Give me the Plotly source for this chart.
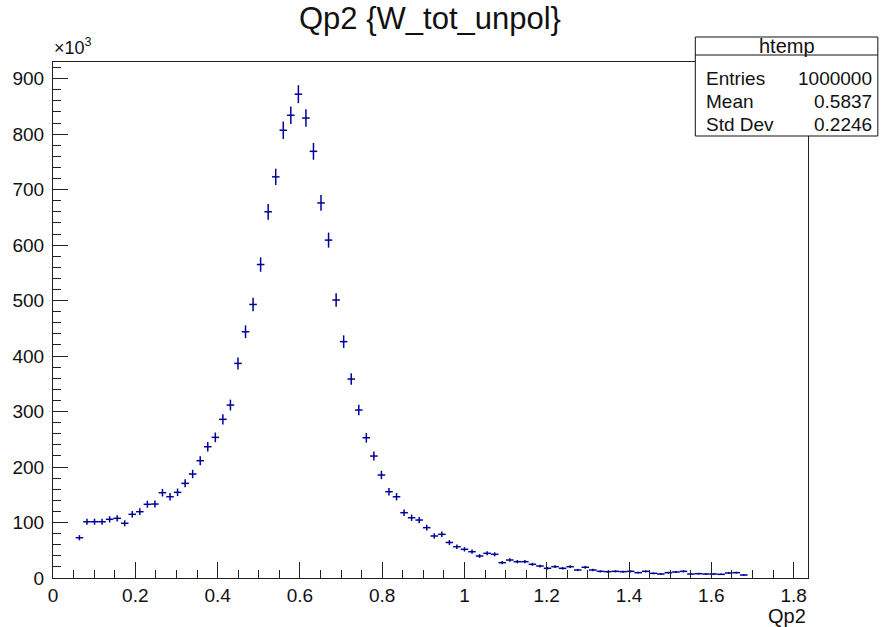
import numpy as np
import plotly.graph_objects as go

# ---------------- data (histogram "htemp", Qp2 weighted by W_tot_unpol) ----------------
x_min, x_max, n_bins = 0.0, 1.835, 100
first_filled_bin = 3

counts_k = [
    72.6, 101.4, 101.4, 101.4, 105.8, 107.6, 98.6, 114.8, 119.5, 132.8,
    133.3, 153.7, 146.5, 154.4, 170.6, 187.4, 211.4, 236.6, 253.5, 286.0,
    311.7, 386.8, 443.8, 493.0, 565.0, 660.0, 723.0, 807.0, 834.0, 872.0,
    829.0, 769.0, 676.0, 609.0, 501.0, 426.0, 358.6, 302.7, 252.8, 219.8,
    185.6, 155.5, 146.5, 117.7, 108.6, 104.5, 90.7, 75.7, 78.7, 64.0,
    56.4, 51.7, 47.4, 39.6, 44.5, 42.7, 27.6, 32.4, 29.4, 29.4,
    24.7, 21.6, 17.5, 20.4, 17.5, 20.4, 14.4, 19.3, 14.4, 12.0,
    11.4, 12.0, 11.4, 12.0, 9.6, 12.0, 8.4, 7.2, 9.6, 10.8,
    12.0, 7.2, 7.8, 7.2, 7.2, 6.6, 9.0, 9.6, 5.4,
]

errors_k = [
    4.7, 5.5, 5.5, 5.5, 5.6, 5.7, 5.4, 5.9, 6.0, 6.3,
    6.3, 6.8, 6.6, 6.8, 7.2, 7.5, 8.0, 8.4, 8.7, 9.3,
    9.7, 10.8, 11.5, 12.2, 13.0, 14.1, 14.7, 15.6, 15.8, 16.2,
    15.8, 15.2, 14.2, 13.5, 12.3, 11.3, 10.4, 9.5, 8.7, 8.1,
    7.5, 6.8, 6.6, 5.9, 5.7, 5.6, 5.2, 4.8, 4.9, 4.4,
    4.1, 3.9, 3.8, 3.4, 3.7, 3.6, 2.9, 3.1, 3.0, 3.0,
    2.7, 2.5, 2.3, 2.5, 2.3, 2.5, 2.1, 2.4, 2.1, 1.9,
    1.8, 1.9, 1.8, 1.9, 1.7, 1.9, 1.6, 1.5, 1.7, 1.8,
    1.9, 1.5, 1.5, 1.5, 1.5, 1.4, 1.6, 1.7, 1.3,
]

x_ticks = [0, 0.2, 0.4, 0.6, 0.8, 1.0, 1.2, 1.4, 1.6, 1.8]
x_tick_text = ["0", "0.2", "0.4", "0.6", "0.8", "1", "1.2", "1.4", "1.6", "1.8"]
y_ticks = [0, 100, 200, 300, 400, 500, 600, 700, 800, 900]
y_tick_text = ["0", "100", "200", "300", "400", "500", "600", "700", "800", "900"]

stats_title = "htemp"
stats_names = ["Entries", "Mean", "Std Dev"]
stats_values = ["1000000", "0.5837", "0.2246"]

chart_title = "Qp2 {W_tot_unpol}"
x_title = "Qp2"

# ---------------- geometry ----------------
bin_width = (x_max - x_min) / n_bins
idx = np.arange(len(counts_k)) + first_filled_bin
centers = x_min + (idx + 0.5) * bin_width

W, H = 881, 627
L, R, T, B = 51, 808, 62, 578  # plot frame in pixels
pw, ph = R - L, B - T


def px(xp):
    return (xp - L) / pw


def py(yp):
    return (B - yp) / ph


LINE = "#000099"
FONT = "Liberation Sans, Arial, Helvetica, sans-serif"
TXT = "#111111"

fig = go.Figure()
fig.add_trace(go.Scatter(
    x=centers, y=counts_k, mode="markers",
    marker=dict(size=1, color=LINE, opacity=0),
    error_y=dict(type="data", array=errors_k, color=LINE, thickness=1.5, width=0),
    error_x=dict(type="constant", value=bin_width / 2, color=LINE, thickness=1.5, width=0),
    showlegend=False, hoverinfo="x+y",
))

fig.update_layout(
    width=W, height=H,
    margin=dict(l=L, r=W - R, t=T, b=H - B),
    paper_bgcolor="white", plot_bgcolor="white",
    font=dict(family=FONT, size=19, color=TXT),
    showlegend=False,
)

fig.update_xaxes(
    range=[x_min, x_max], tickvals=x_ticks, ticktext=x_tick_text,
    ticks="inside", ticklen=16, tickwidth=1, tickcolor="#222",
    minor=dict(ticks="inside", ticklen=8, dtick=0.05, tickcolor="#222", tickwidth=1),
    showline=True, linecolor="#222", linewidth=1, mirror=True,
    showgrid=False, zeroline=False, tickfont=dict(size=19, color=TXT),
)
fig.update_yaxes(
    range=[0, 930], tickvals=y_ticks, ticktext=y_tick_text,
    ticks="inside", ticklen=15, tickwidth=1, tickcolor="#222",
    minor=dict(ticks="inside", ticklen=8, dtick=20, tickcolor="#222", tickwidth=1),
    showline=True, linecolor="#222", linewidth=1, mirror=True,
    showgrid=False, zeroline=False, tickfont=dict(size=19, color=TXT),
    ticklabelstandoff=4,
)

annotations = [
    dict(text=chart_title, x=px(429), y=py(18), xref="paper", yref="paper",
         xanchor="center", yanchor="middle", showarrow=False,
         font=dict(size=31, color=TXT, family=FONT)),
    dict(text=x_title, x=1.0, y=py(616), xref="paper", yref="paper",
         xanchor="right", yanchor="middle", showarrow=False,
         font=dict(size=20, color=TXT, family=FONT)),
    dict(text="×10<sup>3</sup>", x=px(50), y=py(47), xref="paper", yref="paper",
         xanchor="left", yanchor="middle", showarrow=False,
         font=dict(size=18, color=TXT, family=FONT)),
    dict(text=stats_title, x=px(786.5), y=py(46), xref="paper", yref="paper",
         xanchor="center", yanchor="middle", showarrow=False,
         font=dict(size=20, color=TXT, family=FONT)),
]
row_y = [78.3, 101.7, 124.3]
for name, val, yy in zip(stats_names, stats_values, row_y):
    annotations.append(dict(text=name, x=px(704), y=py(yy), xref="paper", yref="paper",
                            xanchor="left", yanchor="middle", showarrow=False,
                            font=dict(size=19, color=TXT, family=FONT)))
    annotations.append(dict(text=val, x=px(874), y=py(yy), xref="paper", yref="paper",
                            xanchor="right", yanchor="middle", showarrow=False,
                            font=dict(size=19, color=TXT, family=FONT)))
fig.update_layout(annotations=annotations)

fig.update_layout(shapes=[
    dict(type="rect", xref="paper", yref="paper",
         x0=px(695), x1=px(878), y0=py(136), y1=py(37),
         line=dict(color="#111", width=1), fillcolor="white", layer="above"),
    dict(type="line", xref="paper", yref="paper",
         x0=px(695), x1=px(878), y0=py(55), y1=py(55),
         line=dict(color="#111", width=1), layer="above"),
])

fig.write_html(
    "out.html",
    config={"displayModeBar": False},
    post_script="document.body.style.margin='0px';document.body.style.overflow='hidden';",
)
